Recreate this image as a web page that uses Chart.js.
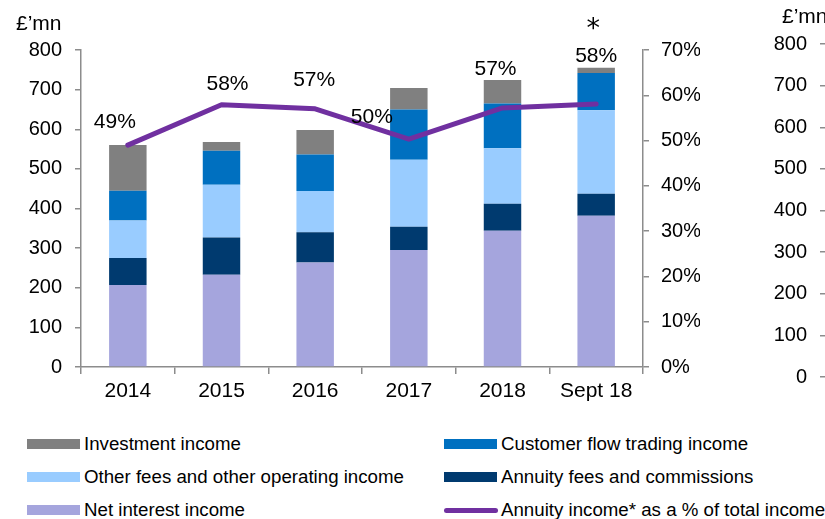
<!DOCTYPE html>
<html>
<head>
<meta charset="utf-8">
<script src="https://cdn.jsdelivr.net/npm/chart.js@4/dist/chart.umd.min.js"></script>
<style>
  body { margin: 0; background: #fff; }
  #wrap { position: relative; width: 825px; height: 519px; overflow: hidden; font-family: "Liberation Sans", Arial, sans-serif; color: #000; }
  #main { position: absolute; left: 0; top: 0; }
  #side { position: absolute; left: 720px; top: 0; }
  .unit { position: absolute; font-size: 21px; line-height: 1; }
  .leg { position: absolute; font-size: 18.7px; line-height: 1; white-space: nowrap; }
  .sw { position: absolute; }
</style>
</head>
<body>
<div id="wrap">
  <canvas id="main" width="700" height="420"></canvas>
  <canvas id="side" width="300" height="420"></canvas>
  <div class="unit" style="left:16px; top:12px;">£’mn</div>
  <div class="unit" style="left:782px; top:5px;">£’mn</div>
  <div id="legend"></div>
</div>
<script>
// ===== DATA =====
const categories = ["2014", "2015", "2016", "2017", "2018", "Sept 18"];

const netInterest   = [207, 233, 264, 295, 344, 382];
const annuityFees   = [68, 94, 76, 59, 68, 55];
const otherFees     = [95, 133, 104, 169, 140, 211];
const customerFlow  = [75, 86, 92, 127, 113, 94];
const investment    = [115, 22, 62, 54, 59, 13];

const annuityPct    = [49.0, 57.9, 57.0, 50.3, 57.2, 58.1];
const pctLabels     = ["49%", "58%", "57%", "50%", "57%", "58%"];

const leftTicks  = [0, 800, 100];   // min, max, step
const rightTicks = [0, 70, 10];

// ===== STYLE =====
const FONT = "'Liberation Sans', Arial, sans-serif";
const AXIS = "#8c8c8c";
const C = {
    invest: "#808080",
    flow: "#0070C0",
    other: "#99CCFF",
    annuity: "#003A6F",
    nii: "#A5A5DD",
    line: "#7030A0"
};
// label offsets from the line point (dx, dy)
const labelOffset = [[-13, -23], [6, -21], [-1, -29], [-37, -22], [-7, -39], [0, -48]];

const barSets = [
    { label: "Net interest income", data: netInterest, color: C.nii },
    { label: "Annuity fees and commissions", data: annuityFees, color: C.annuity },
    { label: "Other fees and other operating income", data: otherFees, color: C.other },
    { label: "Customer flow trading income", data: customerFlow, color: C.flow },
    { label: "Investment income", data: investment, color: C.invest }
];

const labelPlugin = {
    id: "pctLabels",
    afterDatasetsDraw(chart) {
        const meta = chart.getDatasetMeta(5);
        const ctx = chart.ctx;
        ctx.save();
        ctx.font = "21px " + FONT;
        ctx.fillStyle = "#000";
        ctx.textAlign = "center";
        ctx.textBaseline = "middle";
        meta.data.forEach((pt, i) => {
            ctx.fillText(pctLabels[i], pt.x + labelOffset[i][0], pt.y + labelOffset[i][1]);
        });
        const last = meta.data[meta.data.length - 1];
        ctx.font = "27px 'DejaVu Sans', sans-serif";
        ctx.fillText("*", last.x - 3, last.y - 74);
        ctx.restore();
    }
};

const axisCommon = {
    grid: { drawOnChartArea: false, drawTicks: true, tickLength: 6, color: AXIS, lineWidth: 1.5 },
    border: { display: true, color: AXIS, width: 1.5 }
};

new Chart(document.getElementById("main"), {
    data: {
        labels: categories,
        datasets: [
            ...barSets.map(s => ({
                type: "bar",
                label: s.label,
                data: s.data,
                backgroundColor: s.color,
                borderWidth: 0,
                yAxisID: "y",
                order: 1,
                categoryPercentage: 1,
                barPercentage: 0.4
            })),
            {
                type: "line",
                label: "Annuity income* as a % of total income",
                data: annuityPct,
                borderColor: C.line,
                borderWidth: 5,
                borderCapStyle: "round",
                borderJoinStyle: "round",
                pointRadius: 0,
                tension: 0,
                yAxisID: "y1",
                order: 0
            }
        ]
    },
    options: {
        responsive: false,
        animation: false,
        layout: { padding: { top: 50, left: 0, right: 0, bottom: 0 } },
        plugins: { legend: { display: false }, tooltip: { enabled: false } },
        scales: {
            x: {
                stacked: true,
                offset: true,
                ...axisCommon,
                grid: { ...axisCommon.grid, offset: true, tickLength: 7 },
                ticks: { color: "#000", font: { family: FONT, size: 21 }, padding: 5, maxRotation: 0 },
                afterFit: s => { s.height = 53; }
            },
            y: {
                stacked: true,
                position: "left",
                min: leftTicks[0], max: leftTicks[1],
                ...axisCommon,
                ticks: { stepSize: leftTicks[2], color: "#000", font: { family: FONT, size: 20 }, padding: 13 },
                afterFit: s => { s.width = 81; }
            },
            y1: {
                position: "right",
                min: rightTicks[0], max: rightTicks[1],
                ...axisCommon,
                ticks: { stepSize: rightTicks[2], color: "#000", font: { family: FONT, size: 20 }, padding: 12,
                         callback: v => v + "%" },
                afterFit: s => { s.width = 57; }
            }
        }
    },
    plugins: [labelPlugin]
});

// partial second chart cut by the right edge
new Chart(document.getElementById("side"), {
    type: "bar",
    data: { labels: categories, datasets: [] },
    options: {
        responsive: false,
        animation: false,
        layout: { padding: { top: 44, bottom: 43, left: 0, right: 0 } },
        plugins: { legend: { display: false }, tooltip: { enabled: false } },
        scales: {
            x: { display: false },
            y: {
                min: leftTicks[0], max: leftTicks[1],
                ...axisCommon,
                ticks: { stepSize: leftTicks[2], color: "#000", font: { family: FONT, size: 20 }, padding: 13 },
                afterFit: s => { s.width = 106; }
            }
        }
    }
});

// ===== LEGEND =====
const legendItems = [
    { text: "Investment income", color: C.invest, kind: "box" },
    { text: "Customer flow trading income", color: C.flow, kind: "box" },
    { text: "Other fees and other operating income", color: C.other, kind: "box" },
    { text: "Annuity fees and commissions", color: C.annuity, kind: "box" },
    { text: "Net interest income", color: C.nii, kind: "box" },
    { text: "Annuity income* as a % of total income", color: C.line, kind: "line" }
];
const legendEl = document.getElementById("legend");
const colX = [27, 444];
const rowY = [444, 477, 510];
legendItems.forEach((it, i) => {
    const x = colX[i % 2], y = rowY[Math.floor(i / 2)];
    const sw = document.createElement("div");
    sw.className = "sw";
    if (it.kind === "box") {
        Object.assign(sw.style, { left: x + "px", top: (y - 5) + "px", width: "53px", height: "10px", background: it.color });
    } else {
        Object.assign(sw.style, { left: x + "px", top: (y - 2) + "px", width: "54px", height: "5px", background: it.color, borderRadius: "3px" });
    }
    legendEl.appendChild(sw);
    const t = document.createElement("div");
    t.className = "leg";
    t.textContent = it.text;
    Object.assign(t.style, { left: (x + 57) + "px", top: (y - 9) + "px" });
    legendEl.appendChild(t);
});
</script>
</body>
</html>
